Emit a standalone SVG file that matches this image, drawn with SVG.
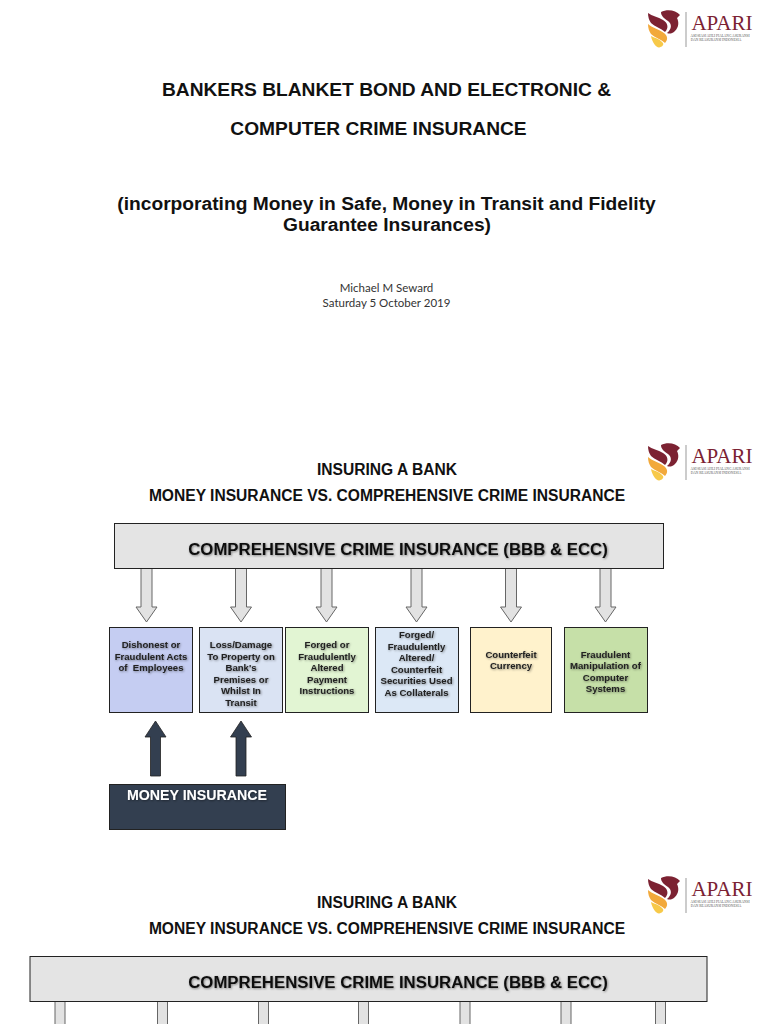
<svg xmlns="http://www.w3.org/2000/svg" width="768" height="1024" viewBox="0 0 768 1024">
<style>
text{font-family:"Liberation Sans",Arial,sans-serif;text-anchor:middle;fill:#111}
.t{font-weight:700;font-size:19.2px}
.h{font-weight:700;font-size:15.6px}
.s{font-family:Lato,"Open Sans",sans-serif;font-size:11.500px;fill:#333}
.b{font-weight:700;font-size:16.8px;filter:url(#sh)}
.n{font-weight:700;font-size:9.600px;fill:#222;filter:url(#sh)}
.box{stroke:#222;stroke-width:1}
.ar{fill:#e2e2e2;stroke:#666;stroke-width:1}
.up{fill:#333f50;stroke:#222;stroke-width:.8}
</style>
<defs>
<filter id="sh" x="-10%" y="-20%" width="120%" height="150%"><feDropShadow dx="0.8" dy="0.8" stdDeviation="0.8" flood-color="#000" flood-opacity="0.45"/></filter>
<filter id="soft"><feGaussianBlur stdDeviation="0.3"/></filter>
<path id="d" d="M-5.500 0H5.500V39H10.500L0 54L-10.500 39H-5.500Z"/>
<path id="u" d="M-5 55H5V16H10.500L0 0L-10.500 16H-5Z"/>
<g id="logo">
<g filter="url(#soft)">
<path d="M661 12C667 9 676 10 680 15L677 18C679 22 679 27 675 31C672 34 669 34 667 33C672 29 672 24 668 21C664 18 661 16 661 12Z" fill="#7b2233"/>
<path d="M648 13C652 16 658 17 663 20C668 23 669 28 665 32C661 28 655 27 651 23C649 20 648 17 648 13Z" fill="#7b2233"/>
<path d="M648 24C652 28 659 29 664 33C668 36 668 40 665 43C661 39 655 38 651 34C649 31 648 28 648 24Z" fill="#f2a93b"/>
<path d="M651 36C655 38 660 39 663 43C664 45 662 47 659 47.500C656 47.500 652 42 651 36Z" fill="#f7c948"/>
</g>
<rect x="685.500" y="12" width="1" height="35" fill="#999"/>
<text x="722" y="30" style="font-family:'Liberation Serif',serif;font-size:21px;fill:#7b2233">APARI</text>
<text x="720" y="36.500" style="font-family:'Liberation Serif',serif;font-size:3.500px;fill:#555">ASOSIASI AHLI PIALANG ASURANSI</text>
<text x="716" y="41" style="font-family:'Liberation Serif',serif;font-size:3.500px;fill:#555">DAN REASURANSI INDONESIA</text>
</g>
</defs>
<rect width="768" height="1024" fill="#fff"/>
<use id="logo-1" href="#logo"/>
<use id="logo-2" href="#logo" y="433"/>
<use id="logo-3" href="#logo" y="866"/>

<g id="title">
<text class="t" x="386.500" y="96">BANKERS BLANKET BOND AND ELECTRONIC &amp;</text>
<text class="t" x="378.500" y="135">COMPUTER CRIME INSURANCE</text>
<text class="t" x="386.500" y="210">(incorporating Money in Safe, Money in Transit and Fidelity</text>
<text class="t" x="387" y="231">Guarantee Insurances)</text>
<text class="s" x="386.500" y="292">Michael M Seward</text>
<text class="s" x="386.500" y="307">Saturday 5 October 2019</text>
</g>

<g id="heading-2">
<text class="h" x="387" y="475">INSURING A BANK</text>
<text class="h" x="387" y="501">MONEY INSURANCE VS. COMPREHENSIVE CRIME INSURANCE</text>
</g>

<g id="connectors">
<use href="#d" class="ar" x="146.500" y="568"/>
<use href="#d" class="ar" x="241" y="568"/>
<use href="#d" class="ar" x="326.500" y="568"/>
<use href="#d" class="ar" x="416.500" y="568"/>
<use href="#d" class="ar" x="511" y="568"/>
<use href="#d" class="ar" x="605.500" y="568"/>
<use href="#u" class="up" x="155.500" y="721"/>
<use href="#u" class="up" x="241" y="721"/>
<g fill="#e2e2e2" stroke="#666">
<rect x="55" y="1001" width="10" height="24"/>
<rect x="157.500" y="1001" width="10" height="24"/>
<rect x="258.500" y="1001" width="10" height="24"/>
<rect x="358.500" y="1001" width="10" height="24"/>
<rect x="460" y="1001" width="10" height="24"/>
<rect x="561" y="1001" width="10" height="24"/>
<rect x="655.500" y="1001" width="10" height="24"/>
</g>
</g>

<g id="crime-box-1">
<rect class="box" x="114.500" y="523.500" width="549" height="45" fill="#e4e4e4"/>
<text class="b" x="398" y="555">COMPREHENSIVE CRIME INSURANCE (BBB &amp; ECC)</text>
</g>
<g id="node-dishonest">
<rect class="box" x="109.500" y="627.500" width="83" height="85" fill="#c5cdf2"/>
<text class="n" x="151" y="648">Dishonest or</text>
<text class="n" x="151" y="660">Fraudulent Acts</text>
<text class="n" x="151" y="671">of&#160; Employees</text>
</g>
<g id="node-loss">
<rect class="box" x="199.500" y="627.500" width="83" height="85" fill="#dae3f3"/>
<text class="n" x="241" y="648">Loss/Damage</text>
<text class="n" x="241" y="660">To Property on</text>
<text class="n" x="241" y="671">Bank's</text>
<text class="n" x="241" y="683">Premises or</text>
<text class="n" x="241" y="694">Whilst In</text>
<text class="n" x="241" y="706">Transit</text>
</g>
<g id="node-forged">
<rect class="box" x="285.500" y="627.500" width="83" height="85" fill="#e2f5d3"/>
<text class="n" x="327" y="648">Forged or</text>
<text class="n" x="327" y="660">Fraudulently</text>
<text class="n" x="327" y="671">Altered</text>
<text class="n" x="327" y="683">Payment</text>
<text class="n" x="327" y="694">Instructions</text>
</g>
<g id="node-securities">
<rect class="box" x="375.500" y="627.500" width="83" height="85" fill="#dce8f6"/>
<text class="n" x="416.500" y="638">Forged/</text>
<text class="n" x="416.500" y="650">Fraudulently</text>
<text class="n" x="416.500" y="661">Altered/</text>
<text class="n" x="416.500" y="673">Counterfeit</text>
<text class="n" x="416.500" y="684">Securities Used</text>
<text class="n" x="416.500" y="696">As Collaterals</text>
</g>
<g id="node-counterfeit">
<rect class="box" x="470.500" y="627.500" width="81" height="85" fill="#fff2cc"/>
<text class="n" x="511" y="658">Counterfeit</text>
<text class="n" x="511" y="669">Currency</text>
</g>
<g id="node-manipulation">
<rect class="box" x="564.500" y="627.500" width="83" height="85" fill="#c6e0a8"/>
<text class="n" x="605.500" y="658">Fraudulent</text>
<text class="n" x="605.500" y="669">Manipulation of</text>
<text class="n" x="605.500" y="681">Computer</text>
<text class="n" x="605.500" y="692">Systems</text>
</g>
<g id="node-money">
<rect x="109.500" y="784.500" width="176" height="45" fill="#333f50" stroke="#222"/>
<text class="n" x="197" y="800" style="font-size:14.200px;fill:#fff">MONEY INSURANCE</text>
</g>

<g id="heading-3">
<text class="h" x="387" y="908">INSURING A BANK</text>
<text class="h" x="387" y="934">MONEY INSURANCE VS. COMPREHENSIVE CRIME INSURANCE</text>
</g>
<g id="crime-box-2">
<rect class="box" x="30" y="956.500" width="677" height="45" fill="#e4e4e4"/>
<text class="b" x="398" y="988">COMPREHENSIVE CRIME INSURANCE (BBB &amp; ECC)</text>
</g>
</svg>
